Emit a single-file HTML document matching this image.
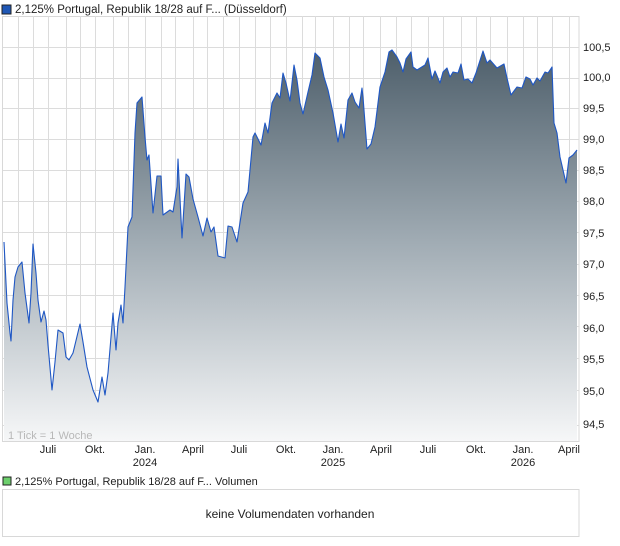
<!DOCTYPE html>
<html><head><meta charset="utf-8"><style>
html,body{margin:0;padding:0;background:#fff;}
svg{display:block;font-family:"Liberation Sans",sans-serif;}
</style></head><body>
<svg width="620" height="546" viewBox="0 0 620 546" xmlns="http://www.w3.org/2000/svg">
<defs>
<linearGradient id="g" gradientUnits="userSpaceOnUse" x1="0" y1="50" x2="0" y2="441">
<stop offset="0" stop-color="#4e5f6b"/>
<stop offset="0.5" stop-color="#a2adb5"/>
<stop offset="1" stop-color="#f6f7f8"/>
</linearGradient>
</defs>
<rect x="2" y="5" width="9" height="9" fill="#1f57b5" stroke="#222" stroke-width="1"/>
<text x="15" y="13" font-size="11.5" fill="#222">2,125% Portugal, Republik 18/28 auf F... (Düsseldorf)</text>
<rect x="2.5" y="16.5" width="576.5" height="425" fill="#fff" stroke="#d8d8d8"/>
<g stroke="#dcdcdc" stroke-width="1">
<line x1="3" x2="579" y1="47.5" y2="47.5"/><line x1="3" x2="579" y1="78.5" y2="78.5"/><line x1="3" x2="579" y1="108.5" y2="108.5"/><line x1="3" x2="579" y1="139.5" y2="139.5"/><line x1="3" x2="579" y1="170.5" y2="170.5"/><line x1="3" x2="579" y1="201.5" y2="201.5"/><line x1="3" x2="579" y1="232.5" y2="232.5"/><line x1="3" x2="579" y1="264.5" y2="264.5"/><line x1="3" x2="579" y1="295.5" y2="295.5"/><line x1="3" x2="579" y1="326.5" y2="326.5"/><line x1="3" x2="579" y1="358.5" y2="358.5"/><line x1="3" x2="579" y1="390.5" y2="390.5"/><line x1="3" x2="579" y1="425.5" y2="425.5"/>
<line y1="16" y2="441" x1="18.5" x2="18.5"/><line y1="16" y2="441" x1="33.5" x2="33.5"/><line y1="16" y2="441" x1="48.5" x2="48.5"/><line y1="16" y2="441" x1="66.5" x2="66.5"/><line y1="16" y2="441" x1="80.5" x2="80.5"/><line y1="16" y2="441" x1="95.5" x2="95.5"/><line y1="16" y2="441" x1="113.5" x2="113.5"/><line y1="16" y2="441" x1="128.5" x2="128.5"/><line y1="16" y2="441" x1="145.5" x2="145.5"/><line y1="16" y2="441" x1="161.5" x2="161.5"/><line y1="16" y2="441" x1="175.5" x2="175.5"/><line y1="16" y2="441" x1="193.5" x2="193.5"/><line y1="16" y2="441" x1="207.5" x2="207.5"/><line y1="16" y2="441" x1="223.5" x2="223.5"/><line y1="16" y2="441" x1="239.5" x2="239.5"/><line y1="16" y2="441" x1="255.5" x2="255.5"/><line y1="16" y2="441" x1="270.5" x2="270.5"/><line y1="16" y2="441" x1="286.5" x2="286.5"/><line y1="16" y2="441" x1="302.5" x2="302.5"/><line y1="16" y2="441" x1="315.5" x2="315.5"/><line y1="16" y2="441" x1="333.5" x2="333.5"/><line y1="16" y2="441" x1="349.5" x2="349.5"/><line y1="16" y2="441" x1="363.5" x2="363.5"/><line y1="16" y2="441" x1="380.5" x2="380.5"/><line y1="16" y2="441" x1="396.5" x2="396.5"/><line y1="16" y2="441" x1="411.5" x2="411.5"/><line y1="16" y2="441" x1="428.5" x2="428.5"/><line y1="16" y2="441" x1="443.5" x2="443.5"/><line y1="16" y2="441" x1="461.5" x2="461.5"/><line y1="16" y2="441" x1="476.5" x2="476.5"/><line y1="16" y2="441" x1="490.5" x2="490.5"/><line y1="16" y2="441" x1="507.5" x2="507.5"/><line y1="16" y2="441" x1="523.5" x2="523.5"/><line y1="16" y2="441" x1="537.5" x2="537.5"/><line y1="16" y2="441" x1="552.5" x2="552.5"/><line y1="16" y2="441" x1="569.5" x2="569.5"/>
</g>
<polygon fill="url(#g)" points="4,441 4,242 6,283 7,303 10,333 11,341 13,300 15,277 18,267 22,262 25,293 29,323 31,293 33,244 36,273 38,300 41,322 44,311 46,320 48,345 52,390 55,362 58,330 63,333 66,357 69,360 73,353 80,324 83,342 87,367 93,390 98,402 102,377 105,395 108,373 111,337 113,313 116,350 118,323 121,305 123,323 125,287 128,227 132,217 135,133 137,103 142,97 145,137 147,160 149,155 153,213 157,176 161,176 163,215 170,210 173,212 177,187 178,159 182,238 186,174 189,177 193,199 198,217 203,236 207,218 211,232 214,227 218,256 225,258 228,226 232,227 237,242 243,203 248,192 253,137 255,133 261,145 265,123 268,133 272,103 277,93 280,98 283,73 286,83 290,101 294,65 297,80 300,103 303,114 308,92 312,75 315,53 320,58 324,77 328,90 333,113 338,142 341,124 344,138 348,100 352,93 355,102 359,108 362,88 363,97 367,149 371,144 375,127 380,87 385,72 389,52 392,50 397,57 400,63 403,72 406,59 411,52 413,67 417,70 425,65 428,58 432,79 435,71 440,83 443,72 447,68 450,77 453,72 458,73 461,64 464,80 468,79 472,83 476,73 483,51 487,63 490,60 497,68 504,64 507,78 511,95 517,87 522,88 526,77 530,79 533,85 537,78 540,81 545,72 548,73 552,67 554,123 557,133 560,157 566,183 569,158 573,155 577,150 577,441"/>
<polyline fill="none" stroke="#1f57c4" stroke-width="1.1" stroke-linejoin="round" points="4,242 6,283 7,303 10,333 11,341 13,300 15,277 18,267 22,262 25,293 29,323 31,293 33,244 36,273 38,300 41,322 44,311 46,320 48,345 52,390 55,362 58,330 63,333 66,357 69,360 73,353 80,324 83,342 87,367 93,390 98,402 102,377 105,395 108,373 111,337 113,313 116,350 118,323 121,305 123,323 125,287 128,227 132,217 135,133 137,103 142,97 145,137 147,160 149,155 153,213 157,176 161,176 163,215 170,210 173,212 177,187 178,159 182,238 186,174 189,177 193,199 198,217 203,236 207,218 211,232 214,227 218,256 225,258 228,226 232,227 237,242 243,203 248,192 253,137 255,133 261,145 265,123 268,133 272,103 277,93 280,98 283,73 286,83 290,101 294,65 297,80 300,103 303,114 308,92 312,75 315,53 320,58 324,77 328,90 333,113 338,142 341,124 344,138 348,100 352,93 355,102 359,108 362,88 363,97 367,149 371,144 375,127 380,87 385,72 389,52 392,50 397,57 400,63 403,72 406,59 411,52 413,67 417,70 425,65 428,58 432,79 435,71 440,83 443,72 447,68 450,77 453,72 458,73 461,64 464,80 468,79 472,83 476,73 483,51 487,63 490,60 497,68 504,64 507,78 511,95 517,87 522,88 526,77 530,79 533,85 537,78 540,81 545,72 548,73 552,67 554,123 557,133 560,157 566,183 569,158 573,155 577,150"/>
<text x="8" y="439" font-size="11" fill="#b8b8b8">1 Tick = 1 Woche</text>
<g font-size="11" fill="#222">
<text x="583" y="51">100,5</text><text x="583" y="81">100,0</text><text x="583" y="112">99,5</text><text x="583" y="143">99,0</text><text x="583" y="174">98,5</text><text x="583" y="205">98,0</text><text x="583" y="237">97,5</text><text x="583" y="268">97,0</text><text x="583" y="300">96,5</text><text x="583" y="332">96,0</text><text x="583" y="363">95,5</text><text x="583" y="395">95,0</text><text x="583" y="428">94,5</text>
</g>
<g font-size="11" fill="#222" text-anchor="middle">
<text x="48" y="453">Juli</text><text x="95" y="453">Okt.</text><text x="145" y="453">Jan.</text><text x="145" y="466">2024</text><text x="193" y="453">April</text><text x="239" y="453">Juli</text><text x="286" y="453">Okt.</text><text x="333" y="453">Jan.</text><text x="333" y="466">2025</text><text x="381" y="453">April</text><text x="428" y="453">Juli</text><text x="476" y="453">Okt.</text><text x="523" y="453">Jan.</text><text x="523" y="466">2026</text><text x="569" y="453">April</text>
</g>
<rect x="3" y="477" width="8" height="8" fill="#6ccf6c" stroke="#222" stroke-width="1"/>
<text x="15" y="485" font-size="11" fill="#222">2,125% Portugal, Republik 18/28 auf F... Volumen</text>
<rect x="2.5" y="489.5" width="576.5" height="47" fill="#fff" stroke="#d8d8d8"/>
<text x="290" y="518" font-size="12" fill="#222" text-anchor="middle">keine Volumendaten vorhanden</text>
</svg>
</body></html>
